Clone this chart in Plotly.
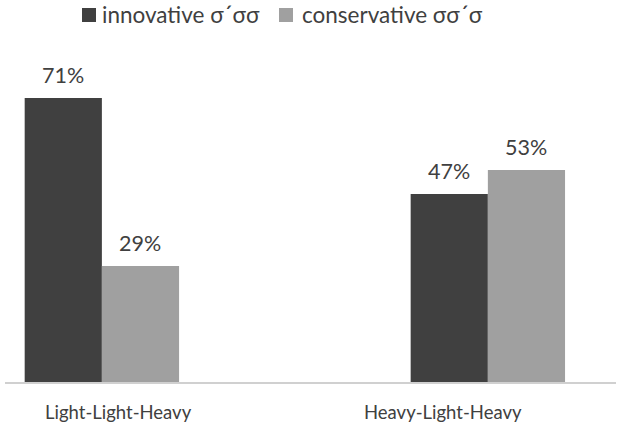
import plotly.graph_objects as go

categories = ["Light-Light-Heavy", "Heavy-Light-Heavy"]
series_names = ["innovative σ\u00b4σσ", "conservative σσ\u00b4σ"]
innovative = [71, 47]
conservative = [29, 53]
label_offsets = [0.044, -0.117]

dark = "#404040"
light = "#a0a0a0"
txt = "#404040"
font_family = "Lato, Open Sans, sans-serif"

W, H = 621, 430
ML, MR, MT, MB = 5, 5, 62, 48
PW, PH = W - ML - MR, H - MT - MB


def px(x):
    return (x - ML) / PW


def py(y):
    return (H - MB - y) / PH


xs = list(range(len(categories)))
bar_off = 0.1

fig = go.Figure()
series = [(series_names[0], innovative, dark, -bar_off), (series_names[1], conservative, light, bar_off)]
for name, vals, col, off in series:
    fig.add_trace(go.Bar(
        x=xs, y=vals, name=name, marker=dict(color=col, line=dict(width=0)),
        showlegend=False,
    ))
    for i, v in enumerate(vals):
        fig.add_annotation(x=xs[i] + off, y=v, xref="x", yref="y", text=f"{v}%",
                           showarrow=False, yanchor="middle", yshift=23,
                           font=dict(size=21.5, color=txt, family=font_family))

for i, c in enumerate(categories):
    fig.add_annotation(x=xs[i] + label_offsets[i], y=py(412), xref="x", yref="paper",
                       text=c, showarrow=False, yanchor="middle",
                       font=dict(size=18.5, color=txt, family=font_family))

# manual legend
legend_items = [(series_names[0], dark, 82, 100), (series_names[1], light, 279, 300)]
for name, col, sx, tx in legend_items:
    fig.add_shape(type="rect", xref="paper", yref="paper",
                  x0=px(sx), x1=px(sx + 14), y0=py(22), y1=py(8),
                  fillcolor=col, line=dict(width=0))
    fig.add_annotation(x=px(tx), y=py(15), xref="paper", yref="paper", text=name,
                       showarrow=False, xanchor="left", yanchor="middle",
                       font=dict(size=22.5, color=txt, family=font_family))

fig.update_layout(
    width=W, height=H,
    margin=dict(l=ML, r=MR, t=MT, b=MB, autoexpand=False),
    barmode="group", bargap=0.6, bargroupgap=0,
    plot_bgcolor="white", paper_bgcolor="white",
    font=dict(family=font_family, size=20, color=txt),
    showlegend=False,
    xaxis=dict(range=[-0.251, 1.332], showticklabels=False, showgrid=False, zeroline=False,
               showline=True, linecolor="#d0d0d0", linewidth=2, ticks=""),
    yaxis=dict(range=[0, 80], visible=False, showgrid=False, zeroline=False),
)

fig.write_html("out.html")
